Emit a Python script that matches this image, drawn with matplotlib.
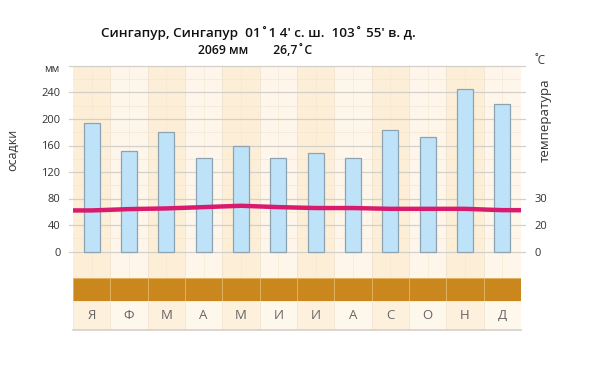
import matplotlib
matplotlib.use("Agg")
import matplotlib.pyplot as plt
import numpy as np

plt.rcParams['font.family'] = ['Open Sans', 'DejaVu Sans']

months = ['Я', 'Ф', 'М', 'А', 'М', 'И', 'И', 'А', 'С', 'О', 'Н', 'Д']
precip = [194, 152, 180, 141, 159, 141, 149, 141, 183, 173, 246, 222]
temps = [25.5, 26.0, 26.25, 26.75, 27.25, 26.75, 26.4, 26.4, 26.1, 26.1, 26.1, 25.6]
left_ticks = [0, 40, 80, 120, 160, 200, 240]
right_tick_pos = [0, 40, 80]
right_tick_labels = ['0', '20', '30']
title = "Сингапур, Сингапур  01˚1 4' с. ш.  103˚ 55' в. д."
subtitle = "2069 мм        26,7˚C"


def t_to_mm(t):
    t = np.asarray(t, dtype=float)
    return 40 + (t - 20) * 4


W, H = 600, 366
fig = plt.figure(figsize=(6, 3.66), dpi=100)

x0, x1 = 73, 521
ax = fig.add_axes([x0 / W, 1 - 278 / H, (x1 - x0) / W, (278 - 66) / H])
n = len(months)
x = np.arange(n)
ax.set_xlim(-0.5, n - 0.5)
ax.set_ylim(-40, 280)

col_a = '#fdeed7'
col_b = '#fef6ea'
for i in range(n):
    ax.axvspan(i - 0.5, i + 0.5, color=col_a if i % 2 == 0 else col_b, lw=0, zorder=0)
    ax.axvline(i, color='#f6e8d4', lw=0.5, zorder=1)
    if i > 0:
        ax.axvline(i - 0.5, color='#efe2d0', lw=0.6, zorder=1)

for v in np.arange(20, 281, 40):
    ax.axhline(v, color='#f5e6d0', lw=0.5, zorder=1)
for v in range(0, 281, 40):
    ax.plot([-0.62, n - 0.38], [v, v], color='#d3d0ca', lw=0.9, zorder=1, clip_on=False)

ax.bar(x, precip, width=0.42, color='#bee2f8', edgecolor='#8da3b1', linewidth=0.9, zorder=2)

ty = t_to_mm(temps)
lx = np.concatenate([[-0.5], x, [n - 0.5]])
ly = np.concatenate([[ty[0]], ty, [ty[-1]]])
ax.plot(lx, ly, color='#d81b6e', lw=3.2, solid_capstyle='butt', zorder=3)

for s in ax.spines.values():
    s.set_visible(False)
ax.set_xticks([])
ax.set_yticks(left_ticks)
ax.set_yticklabels([str(v) for v in left_ticks])
ax.tick_params(axis='y', length=0, pad=9, labelsize=8, labelcolor='#333333')

ax2 = ax.twinx()
ax2.set_ylim(ax.get_ylim())
ax2.set_yticks(right_tick_pos)
ax2.set_yticklabels(right_tick_labels)
ax2.tick_params(axis='y', length=0, pad=10, labelsize=8, labelcolor='#333333')
for s in ax2.spines.values():
    s.set_visible(False)

# brown band
axb = fig.add_axes([x0 / W, 1 - 301 / H, (x1 - x0) / W, 23 / H])
axb.bar(x, [1] * n, width=1.0, color='#c9871d', edgecolor='#e2b15f', linewidth=0.7)
axb.set_xlim(-0.5, n - 0.5)
axb.set_ylim(0, 1)
axb.axis('off')

# month label row
axm = fig.add_axes([x0 / W, 1 - 330 / H, (x1 - x0) / W, 29 / H])
axm.bar(x, [1] * n, width=1.0, color=[('#fdf0dd' if i % 2 == 0 else '#fef7ec') for i in range(n)],
        edgecolor='#f4e6d2', linewidth=0.6)
for i, m in enumerate(months):
    axm.text(i, 0.5, m, ha='center', va='center', fontsize=9.5, color='#666666')
axm.set_xlim(-0.5, n - 0.5)
axm.set_ylim(0, 1)
axm.axis('off')
axm.plot([-0.5, n - 0.5], [0, 0], color='#d5d0ca', lw=1.2, clip_on=False)

# texts
fig.text(258 / W, 1 - 33 / H, title, ha='center', va='center', fontsize=9.7,
         fontweight='semibold', color='#111111')
fig.text(255 / W, 1 - 50 / H, subtitle, ha='center', va='center', fontsize=8.8,
         fontweight='semibold', color='#111111')
fig.text(52 / W, 1 - 69 / H, 'мм', ha='center', va='center', fontsize=7.5, color='#333333')
fig.text(540 / W, 1 - 60 / H, '˚C', ha='center', va='center', fontsize=8.5, color='#333333')
fig.text(13 / W, 1 - 150 / H, 'осадки', ha='center', va='center', rotation=90, fontsize=9, color='#333333')
fig.text(545 / W, 1 - 120 / H, 'температура', ha='center', va='center', rotation=90, fontsize=9.5, color='#333333')

fig.savefig('out.png', dpi=100)
